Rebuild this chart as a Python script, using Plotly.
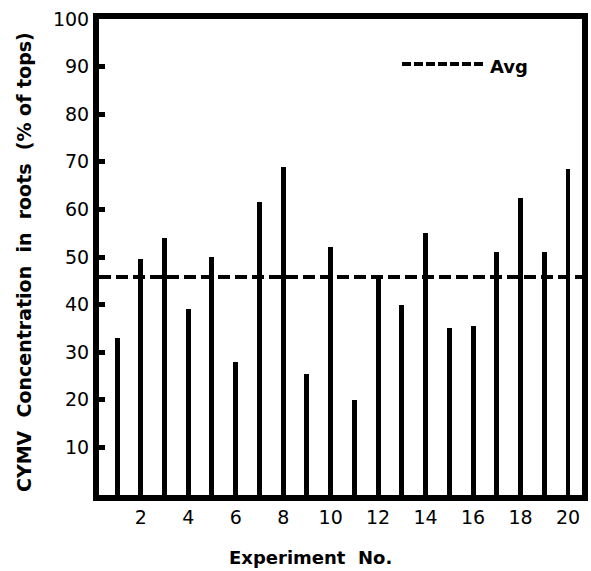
import plotly.graph_objects as go

experiments = list(range(1, 21))
concentration = [33, 49.5, 54, 39, 50, 28, 61.5, 69, 25.5, 52,
                 20, 46, 40, 55, 35, 35.5, 51, 62.5, 51, 68.5]
avg_value = 45.8
y_ticks = [10, 20, 30, 40, 50, 60, 70, 80, 90, 100]
x_ticks = [2, 4, 6, 8, 10, 12, 14, 16, 18, 20]

FONT = "DejaVu Sans"
L, R, T, B = 99, 9, 19, 76
W, H = 591, 571
pw, ph = W - L - R, H - T - B

def px(xp):
    return (xp - L) / pw

def py(yp):
    return (H - B - yp) / ph

fig = go.Figure()
fig.add_trace(go.Bar(
    x=experiments, y=concentration, width=0.21,
    marker=dict(color="black", line=dict(width=0)),
    showlegend=False, hoverinfo="x+y",
))
fig.add_hline(y=avg_value, line=dict(color="black", width=4, dash="12px,5px"), layer="above")

# legend sample
fig.add_shape(type="line", xref="paper", yref="paper", x0=px(402), x1=px(483), y0=py(64), y1=py(64),
              line=dict(color="black", width=4, dash="9px,3px"))
fig.add_annotation(xref="paper", yref="paper", x=px(488), y=py(67), text="<b>Avg</b>", showarrow=False,
                   xanchor="left", yanchor="middle", font=dict(family=FONT, size=18, color="black"))

# axis titles
fig.add_annotation(xref="paper", yref="paper", x=px(310), y=py(557),
                   text="<b>Experiment  No.</b>", showarrow=False,
                   xanchor="center", yanchor="middle", font=dict(family=FONT, size=18, color="black"))
fig.add_annotation(xref="paper", yref="paper", x=px(24), y=py(262),
                   text="<b>CYMV  Concentration  in  roots  (% of tops)</b>", showarrow=False,
                   textangle=-90, xanchor="center", yanchor="middle",
                   font=dict(family=FONT, size=19, color="black"))

fig.update_xaxes(
    range=[0.24, 20.59], tickmode="array", tickvals=x_ticks, ticktext=[str(v) for v in x_ticks],
    showline=True, linecolor="black", linewidth=6, mirror=True, ticks="", showgrid=False,
    zeroline=False, automargin=False, tickfont=dict(family=FONT, size=19, color="black"),
)
fig.update_yaxes(
    range=[0, 100], tickmode="array", tickvals=y_ticks, ticktext=[str(v) for v in y_ticks],
    showline=True, linecolor="black", linewidth=6, mirror=True, ticks="inside", ticklen=6,
    tickwidth=5, tickcolor="black", showgrid=False, zeroline=False, automargin=False,
    tickfont=dict(family=FONT, size=19, color="black"),
)
fig.update_layout(
    width=W, height=H, margin=dict(l=L, r=R, t=T, b=B, autoexpand=False),
    plot_bgcolor="white", paper_bgcolor="white", bargap=0,
)
fig.write_html("out.html", config={"displayModeBar": False},
               post_script="document.body.style.margin='0';document.body.style.padding='0';")
